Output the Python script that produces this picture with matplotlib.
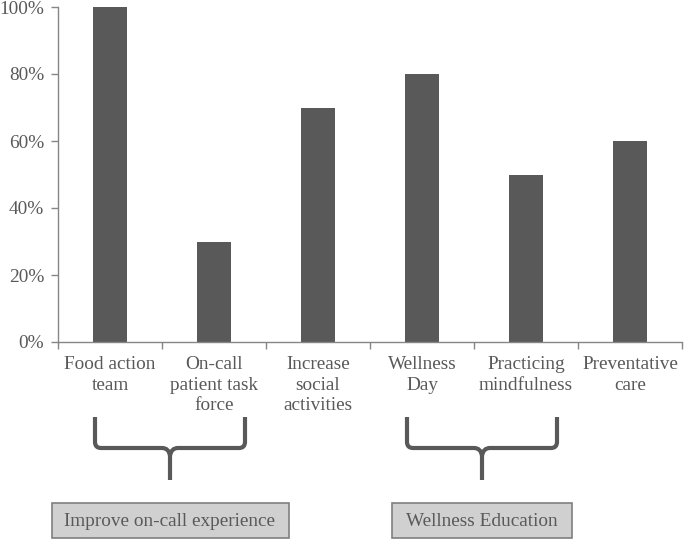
import matplotlib
matplotlib.use("Agg")
import matplotlib.pyplot as plt
from matplotlib.path import Path
from matplotlib.patches import PathPatch, Rectangle
from matplotlib.ticker import PercentFormatter, FixedLocator

categories = ["Food action\nteam", "On-call\npatient task\nforce", "Increase\nsocial\nactivities",
              "Wellness\nDay", "Practicing\nmindfulness", "Preventative\ncare"]
values = [1.00, 0.30, 0.70, 0.80, 0.50, 0.60]
groups = [("Improve on-call experience", 0, 1), ("Wellness Education", 3, 4)]

W, H = 685, 539
plt.rcParams['font.family'] = ['Liberation Serif', 'DejaVu Serif']
TXT = "#595959"
BAR = "#595959"
AX = "#868686"
FS = 13.9

fig = plt.figure(figsize=(W / 100, H / 100), dpi=100)
ax = fig.add_axes([58 / W, 1 - 342 / H, (682 - 58) / W, (342 - 7) / H])
x = list(range(len(categories)))
ax.bar(x, values, width=0.32, color=BAR)
ax.set_xlim(-0.5, len(categories) - 0.5)
ax.set_ylim(0, 1)
ax.yaxis.set_major_locator(FixedLocator([0, 0.2, 0.4, 0.6, 0.8, 1.0]))
ax.yaxis.set_major_formatter(PercentFormatter(1.0, decimals=0))
ax.set_xticks(x)
ax.set_xticklabels(categories, fontsize=FS, color=TXT, linespacing=1.28)
ax.set_xticks([i - 0.5 for i in range(len(categories) + 1)], minor=True)
ax.tick_params(axis='x', which='major', length=0, pad=10)
ax.tick_params(axis='x', which='minor', length=5, color=AX, width=1)
ax.tick_params(axis='y', length=5, color=AX, width=1, labelsize=FS, labelcolor=TXT, pad=5)
for s in ["top", "right"]:
    ax.spines[s].set_visible(False)
for s in ["left", "bottom"]:
    ax.spines[s].set_color(AX)
    ax.spines[s].set_linewidth(1)

def fx(px):
    return px / W

def fy(py):
    return 1 - py / H

def data_to_px(xd):
    return 58 + (xd + 0.5) * 104

for label, i0, i1 in groups:
    L = data_to_px(i0) - 15
    R = data_to_px(i1) + 31
    M = (L + R) / 2
    top, hz, tip = 417, 448, 480
    r = 6
    verts = [
        (L, top), (L, hz - r), (L, hz), (L + r, hz),
        (M - 8, hz), (M - 1, hz), (M, hz + 8),
        (M, tip),
    ]
    codes = [Path.MOVETO, Path.LINETO, Path.CURVE3, Path.CURVE3,
             Path.LINETO, Path.CURVE3, Path.CURVE3, Path.LINETO]
    verts2 = [
        (R, top), (R, hz - r), (R, hz), (R - r, hz),
        (M + 8, hz), (M + 1, hz), (M, hz + 8),
    ]
    codes2 = [Path.MOVETO, Path.LINETO, Path.CURVE3, Path.CURVE3,
              Path.LINETO, Path.CURVE3, Path.CURVE3]
    for vv, cc in ((verts, codes), (verts2, codes2)):
        p = Path([(fx(a), fy(b)) for a, b in vv], cc)
        fig.add_artist(PathPatch(p, transform=fig.transFigure, fill=False,
                                 edgecolor=BAR, linewidth=3, capstyle='butt', joinstyle='round'))
    bw = 237 if i0 == 0 else 180
    bx = M - bw / 2
    fig.add_artist(Rectangle((fx(bx), fy(538)), bw / W, 35 / H, transform=fig.transFigure,
                             facecolor="#d0d0d0", edgecolor="#7f7f7f", linewidth=1.2))
    fig.text(fx(M), fy(521), label, ha='center', va='center', fontsize=FS, color=TXT)

fig.savefig("out.png", dpi=100)
